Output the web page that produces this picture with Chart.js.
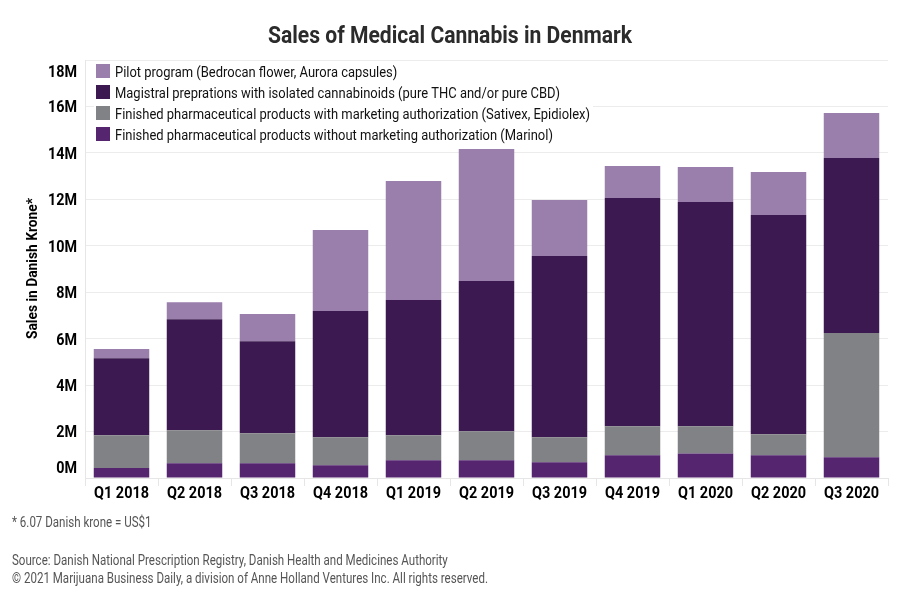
<!DOCTYPE html>
<html><head><meta charset="utf-8">
<script src="https://cdn.jsdelivr.net/npm/chart.js@4.4.0/dist/chart.umd.min.js"></script>
<style>html,body{margin:0;padding:0;background:#fff}#wrap{width:900px;height:600px}</style>
</head><body><div id="wrap"><canvas id="c" width="900" height="600"></canvas></div>
<script>
// ---- data (millions of Danish krone) ----
const categories = ['Q1 2018','Q2 2018','Q3 2018','Q4 2018','Q1 2019','Q2 2019','Q3 2019','Q4 2019','Q1 2020','Q2 2020','Q3 2020'];
const marinol   = [0.43,0.63,0.63,0.55,0.76,0.76,0.68,0.98,1.06,0.98,0.89];
const sativex   = [1.41,1.43,1.30,1.20,1.08,1.25,1.07,1.25,1.17,0.90,5.35];
const magistral = [3.32,4.78,3.96,5.44,5.82,6.47,7.81,9.83,9.65,9.44,7.54];
const pilot     = [0.39,0.73,1.17,3.49,5.13,5.69,2.41,1.38,1.51,1.86,1.94];
const yMax = 18, yStep = 2;
const seriesNames = [
  'Finished pharmaceutical products without marketing authorization (Marinol)',
  'Finished pharmaceutical products with marketing authorization (Sativex, Epidiolex)',
  'Magistral preprations with isolated cannabinoids (pure THC and/or pure CBD)',
  'Pilot program (Bedrocan flower, Aurora capsules)'
];
const seriesColors = ['#55256f','#808285','#3c1a51','#9a7eac'];
const titleText = 'Sales of Medical Cannabis in Denmark';
const yTitle = 'Sales in Danish Krone*';
const footnote = '* 6.07 Danish krone = US$1';
const sourceLines = ['Source: Danish National Prescription Registry, Danish Health and Medicines Authority',
  '\u00A9 2021 Marijuana Business Daily, a division of Anne Holland Ventures Inc. All rights reserved.'];

const FONT = 'Roboto, "Liberation Sans", sans-serif';

// draw text horizontally compressed by factor sx (condensed look)
function drawText(c, text, x, y, sx, align){
  c.save(); c.translate(x, y); c.scale(sx, 1);
  c.textAlign = align || 'left'; c.textBaseline = 'alphabetic';
  c.fillText(text, 0, 0); c.restore();
}
function scaleFor(c, font, sample, target){ c.font = font; return target / c.measureText(sample).width; }

const custom = {
  id:'custom',
  beforeDraw(chart){
    const c = chart.ctx; c.save(); c.fillStyle='#fff'; c.fillRect(0,0,chart.width,chart.height); c.restore();
  },
  afterDraw(chart){
    const c = chart.ctx, a = chart.chartArea, ys = chart.scales.y, xs = chart.scales.x;
    c.save();
    // title
    let f = 'bold 24px '+FONT; let sx = scaleFor(c, f, titleText, 364);
    c.fillStyle='#2b2b2b'; drawText(c, titleText, 450, 43.3, sx, 'center');
    // y tick labels, clamped inside the plot height
    f = 'bold 16.5px '+FONT; sx = scaleFor(c, f, '18M', 29); c.fillStyle='#000';
    ys.ticks.forEach(t=>{
      let y = ys.getPixelForValue(t.value);
      y = Math.min(Math.max(y, a.top+11), a.bottom-11);
      drawText(c, t.value+'M', 77, y+5.9, sx, 'right');
    });
    // x tick labels
    f = 'bold 16.5px '+FONT; sx = scaleFor(c, f, 'Q1 2018', 55);
    chart.data.labels.forEach((lab,i)=>{ drawText(c, lab, xs.getPixelForTick(i), 498.3, sx, 'center'); });
    // y axis title
    f = 'bold 15.5px '+FONT; sx = scaleFor(c, f, yTitle, 141);
    c.save(); c.translate(37, 268.5); c.rotate(-Math.PI/2); drawText(c, yTitle, 0, 0, sx, 'center'); c.restore();
    // legend (top of stack first)
    const ds = chart.data.datasets.slice().reverse();
    f = '15.5px '+FONT; sx = scaleFor(c, f, ds[2].label, 475);
    let maxW = 0; ds.forEach(d=>{maxW=Math.max(maxW,c.measureText(d.label).width*sx);});
    c.fillStyle='#fff'; c.fillRect(94, 61, maxW+24, 21*ds.length);
    ds.forEach((d,i)=>{
      const y = 64 + i*21;
      c.fillStyle = d.backgroundColor; c.fillRect(96, y, 14, 14);
      c.fillStyle = '#111'; drawText(c, d.label, 115, y+13.3, sx, 'left');
    });
    // footnotes
    c.fillStyle='#555'; f = '14px '+FONT; sx = scaleFor(c, f, sourceLines[1], 476);
    drawText(c, footnote, 12, 526.7, sx, 'left');
    drawText(c, sourceLines[0], 12, 565, sx, 'left');
    drawText(c, sourceLines[1], 12, 583.3, sx, 'left');
    c.restore();
  }
};

new Chart(document.getElementById('c'), {
  type:'bar',
  data:{labels:categories, datasets:[
    {label:seriesNames[0], data:marinol,   backgroundColor:seriesColors[0]},
    {label:seriesNames[1], data:sativex,   backgroundColor:seriesColors[1]},
    {label:seriesNames[2], data:magistral, backgroundColor:seriesColors[2]},
    {label:seriesNames[3], data:pilot,     backgroundColor:seriesColors[3]}
  ]},
  options:{
    responsive:false, animation:false, devicePixelRatio:1,
    layout:{padding:{top:60,right:12,bottom:92,left:0}},
    plugins:{legend:{display:false}, title:{display:false}, tooltip:{enabled:false}},
    datasets:{bar:{barPercentage:0.76, categoryPercentage:1, borderWidth:0}},
    scales:{
      x:{stacked:true,
         grid:{display:true, drawOnChartArea:false, drawTicks:true, tickLength:8, color:'#e6e6e6', offset:true},
         border:{display:true, color:'#e6e6e6'},
         ticks:{display:false, autoSkip:false},
         afterFit(s){ s.height = 30; }},
      y:{stacked:true, min:0, max:yMax,
         ticks:{stepSize:yStep, display:false},
         grid:{color:'#ececec', drawTicks:false},
         border:{display:true, color:'#e6e6e6'},
         afterFit(s){ s.width = 85; }}
    }
  },
  plugins:[custom]
});
</script></body></html>
